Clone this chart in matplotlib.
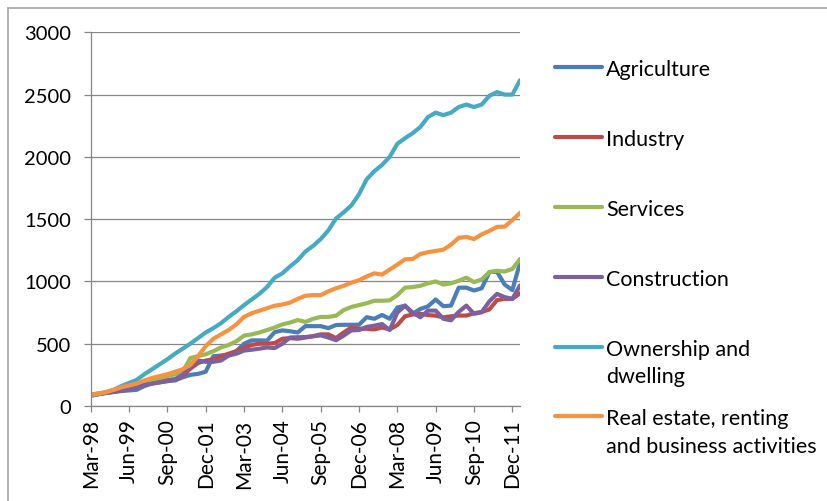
import matplotlib
matplotlib.use("Agg")
import matplotlib.pyplot as plt
from matplotlib.lines import Line2D

# quarterly categories, Mar-98 .. Mar-12
months = ["Mar", "Jun", "Sep", "Dec"]
quarters = []
for yr in range(1998, 2013):
    for m in months:
        quarters.append("%s-%02d" % (m, yr % 100))
quarters = quarters[:57]

agriculture = [90, 100, 105, 112, 120, 125, 130, 160, 180, 190,
               200, 205, 230, 250, 258, 275, 400, 405, 410, 440,
               500, 527, 527, 525, 593, 607, 600, 590, 641, 641,
               641, 625, 650, 652, 652, 652, 713, 700, 731, 700,
               790, 806, 740, 779, 800, 855, 801, 806, 950, 950,
               927, 945, 1075, 1078, 975, 930, 1150]
industry = [85, 95, 105, 115, 125, 135, 150, 170, 185, 195,
            210, 215, 240, 300, 345, 365, 375, 400, 420, 440,
            470, 490, 500, 500, 505, 540, 545, 540, 550, 560,
            575, 575, 545, 590, 630, 620, 620, 615, 630, 615,
            650, 720, 735, 740, 730, 725, 712, 720, 726, 726,
            745, 755, 775, 850, 860, 860, 905]
services = [90, 100, 110, 125, 145, 160, 175, 195, 210, 225,
            240, 255, 275, 385, 400, 415, 440, 470, 490, 520,
            565, 575, 590, 610, 630, 655, 670, 690, 675, 700,
            715, 715, 725, 770, 795, 810, 825, 845, 845, 848,
            890, 950, 955, 965, 985, 1000, 975, 985, 1005, 1030,
            995, 1015, 1075, 1085, 1080, 1100, 1180]
construction = [85, 95, 105, 115, 125, 135, 150, 170, 180, 190,
                200, 215, 250, 320, 365, 355, 355, 365, 405, 420,
                445, 452, 460, 470, 465, 500, 550, 552, 553, 560,
                567, 550, 528, 565, 607, 610, 635, 645, 658, 610,
                750, 805, 750, 712, 766, 766, 700, 688, 755, 806,
                740, 752, 840, 900, 874, 860, 968]
ownership = [80, 95, 110, 130, 160, 185, 210, 255, 295, 335,
             375, 420, 460, 500, 545, 590, 625, 665, 715, 760,
             810, 855, 900, 955, 1030, 1065, 1120, 1170, 1240, 1285,
             1340, 1410, 1505, 1555, 1610, 1700, 1820, 1885, 1935, 2000,
             2105, 2150, 2190, 2240, 2320, 2355, 2335, 2355, 2400, 2420,
             2400, 2420, 2490, 2520, 2500, 2500, 2615]
real_estate = [90, 100, 112, 130, 150, 165, 180, 205, 225, 240,
               255, 275, 295, 330, 400, 480, 540, 575, 610, 655,
               715, 745, 765, 785, 805, 815, 830, 860, 885, 890,
               890, 920, 945, 965, 990, 1010, 1040, 1065, 1055, 1095,
               1135, 1178, 1180, 1220, 1235, 1245, 1255, 1295, 1350, 1358,
               1340, 1378, 1405, 1438, 1440, 1492, 1550]

names = ["Agriculture", "Industry", "Services", "Construction",
         "Ownership and\ndwelling", "Real estate, renting\nand business activities"]
series = [agriculture, industry, services, construction, ownership, real_estate]
colors = ["#4A7EBB", "#BE4B48", "#98B954", "#7D60A0", "#46AAC5", "#F69240"]

plt.rcParams["font.family"] = ["Lato", "DejaVu Sans"]
W, H = 827, 502
fig = plt.figure(figsize=(W / 100, H / 100), dpi=100)
ax = fig.add_axes([90.7 / W, 1 - 407 / H, (520 - 90.7) / W, (407 - 33.3) / H])

x = list(range(len(quarters)))
for vals, c in zip(series, colors):
    ax.plot(x, vals, color=c, lw=3.0, solid_joinstyle="round", solid_capstyle="round")

grey = "#868686"
ax.set_xlim(0, len(quarters) - 1)
ax.set_ylim(0, 3000)
ax.set_yticks(range(0, 3001, 500))
ax.set_xticks(x[::5])
ax.set_xticklabels(quarters[::5], rotation=90)
ax.grid(axis="y", color=grey, lw=0.9)
ax.set_axisbelow(True)
for s in ["top", "right"]:
    ax.spines[s].set_visible(False)
for s in ["left", "bottom"]:
    ax.spines[s].set_color(grey)
    ax.spines[s].set_linewidth(0.9)
ax.tick_params(axis="y", length=5, color=grey, width=0.9, pad=9, labelsize=14.5)
ax.tick_params(axis="x", length=4, color=grey, width=0.9, pad=5, labelsize=15)

# legend drawn by hand so that multi-line labels line up like Excel
for k, (name, c) in enumerate(zip(names, colors)):
    yk = 68.3 + k * 69.8
    fig.add_artist(Line2D([555 / W, 602 / W], [1 - yk / H, 1 - yk / H],
                          color=c, lw=3.0, solid_capstyle="round"))
    for j, part in enumerate(name.split("\n")):
        fig.text(606 / W, 1 - (yk + j * 28) / H, part, fontsize=15.5,
                 va="center_baseline", ha="left")

# chart area border (only top and left visible)
fig.add_artist(Line2D([7.5 / W, 7.5 / W], [0, 1 - 9 / H], color="#a6a6a6", lw=1.2))
fig.add_artist(Line2D([7.5 / W, 1], [1 - 9 / H, 1 - 9 / H], color="#a6a6a6", lw=1.2))

fig.savefig("out.png", dpi=100)
